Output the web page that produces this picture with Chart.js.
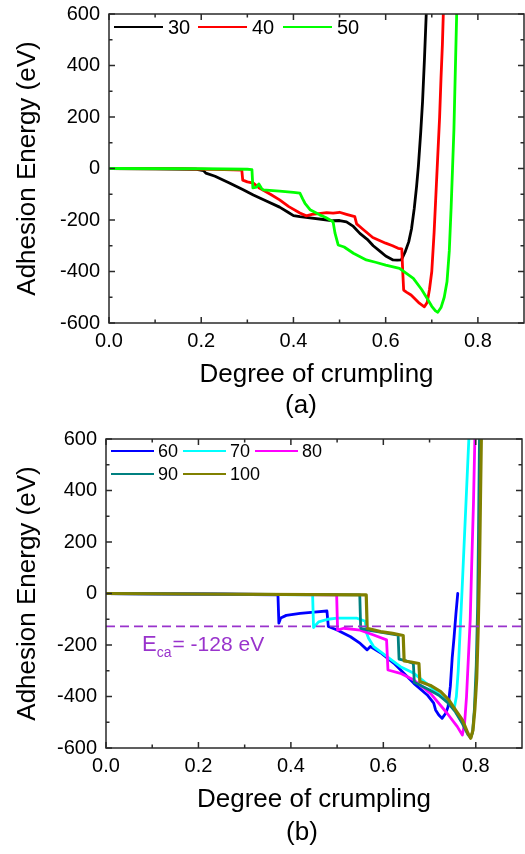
<!DOCTYPE html>
<html><head><meta charset="utf-8">
<script src="https://cdn.jsdelivr.net/npm/chart.js@4.4.1/dist/chart.umd.min.js"></script>
<style>
html,body{margin:0;padding:0;background:#fff;width:525px;height:854px;overflow:hidden;position:relative}
canvas{position:absolute;left:0}
</style></head><body>
<canvas id="c1" width="525" height="425" style="top:0px"></canvas>
<canvas id="c2" width="525" height="429" style="top:425px"></canvas>
<script>
// ---------- data ----------
const xTickValues = [0, 0.2, 0.4, 0.6, 0.8];
const xMinorValues = [0.1, 0.3, 0.5, 0.7];
const yTickValues = [-600, -400, -200, 0, 200, 400, 600];
const yMinorValues = [-500, -300, -100, 100, 300, 500];

// panel (a)
const labelsA = ['30', '40', '50'];
const x30 = [0,0.10,0.19,0.205,0.21,0.23,0.26,0.29,0.313,0.34,0.37,0.39,0.40,0.414,0.44,0.465,0.486,0.50,0.515,0.53,0.544,0.56,0.573,0.59,0.60,0.616,0.625,0.634,0.642,0.65,0.656,0.662,0.667,0.671,0.676,0.680,0.684,0.688];
const y30 = [0,-1,-3,-8,-18,-30,-55,-82,-103,-125,-150,-172,-183,-187,-193,-198,-203,-202,-207,-225,-252,-275,-300,-325,-340,-355,-356,-355,-325,-285,-235,-155,-70,10,140,260,420,600];
const x40 = [0,0.15,0.25,0.288,0.290,0.30,0.313,0.327,0.35,0.37,0.39,0.414,0.428,0.44,0.455,0.472,0.486,0.50,0.515,0.533,0.537,0.55,0.572,0.60,0.615,0.627,0.635,0.637,0.639,0.645,0.655,0.66,0.673,0.684,0.69,0.695,0.700,0.705,0.709,0.713,0.717,0.720,0.723,0.725];
const y40 = [0,-1,-4,-6,-45,-52,-57,-77,-100,-122,-148,-173,-184,-178,-175,-171,-173,-170,-178,-187,-215,-235,-268,-290,-300,-310,-312,-400,-472,-480,-491,-500,-523,-537,-520,-470,-400,-250,-100,50,200,350,480,600];
const x50 = [0,0.2,0.30,0.310,0.312,0.32,0.325,0.330,0.334,0.37,0.40,0.414,0.42,0.425,0.436,0.457,0.47,0.486,0.49,0.497,0.51,0.53,0.558,0.58,0.60,0.63,0.66,0.678,0.69,0.70,0.708,0.713,0.72,0.727,0.733,0.738,0.742,0.745,0.748,0.750,0.752,0.754];
const y50 = [0,-1,-3,-4,-75,-72,-60,-75,-83,-88,-93,-96,-118,-135,-160,-180,-190,-207,-250,-297,-305,-329,-355,-365,-375,-388,-427,-470,-505,-535,-553,-558,-540,-500,-440,-320,-150,0,150,300,450,600];

// panel (b)
const labelsB = ['60', '70', '80', '90', '100'];
const x60 = [0,0.2,0.372,0.374,0.378,0.39,0.42,0.45,0.478,0.481,0.50,0.529,0.55,0.565,0.572,0.594,0.623,0.652,0.666,0.695,0.709,0.713,0.72,0.727,0.735,0.740,0.745,0.749,0.753,0.757,0.761];
const y60 = [0,-2,-5,-115,-95,-85,-77,-72,-68,-128,-142,-168,-194,-219,-206,-230,-271,-323,-349,-394,-426,-452,-472,-485,-465,-440,-360,-250,-170,-80,0];
const x70 = [0,0.2,0.447,0.449,0.46,0.48,0.50,0.543,0.561,0.563,0.568,0.579,0.608,0.637,0.666,0.702,0.738,0.753,0.758,0.762,0.766,0.770,0.775,0.780,0.785];
const y70 = [0,-2,-5,-132,-110,-100,-96,-96,-108,-150,-174,-206,-245,-284,-310,-362,-420,-450,-400,-300,-150,0,200,400,600];
const x80 = [0,0.2,0.499,0.501,0.514,0.55,0.579,0.607,0.61,0.637,0.666,0.702,0.738,0.76,0.771,0.776,0.780,0.784,0.788,0.791,0.795,0.798];
const y80 = [0,-2,-5,-142,-135,-142,-161,-180,-297,-310,-336,-388,-465,-517,-550,-500,-400,-250,-100,100,350,600];
const x90 = [0,0.2,0.549,0.551,0.57,0.60,0.632,0.634,0.65,0.665,0.667,0.70,0.72,0.74,0.756,0.771,0.783,0.789,0.793,0.797,0.801,0.804,0.806,0.808];
const y90 = [0,-2,-5,-135,-143,-152,-162,-255,-262,-272,-345,-375,-395,-425,-460,-505,-548,-560,-540,-450,-280,-50,250,600];
const x100 = [0,0.2,0.563,0.565,0.594,0.62,0.643,0.645,0.66,0.677,0.679,0.702,0.724,0.742,0.756,0.771,0.783,0.789,0.794,0.798,0.802,0.805,0.808,0.810,0.812];
const y100 = [0,-2,-5,-135,-148,-155,-163,-262,-266,-272,-342,-357,-381,-414,-452,-491,-543,-562,-530,-450,-330,-150,100,350,600];

const EcaValue = -128;

// ---------- helpers ----------
const FONT = "Arial, 'Liberation Sans', sans-serif";
const pts = (xs, ys) => xs.map((x, i) => ({x: x, y: ys[i]}));

const framePlugin = {
  id: 'frameTicks',
  afterDatasetsDraw(chart) {
    const {ctx, chartArea: a, scales: {x, y}} = chart;
    ctx.save();
    ctx.strokeStyle = '#2a2a2a';
    ctx.lineWidth = 1.5;
    ctx.strokeRect(a.left, a.top, a.right - a.left, a.bottom - a.top);
    ctx.beginPath();
    const tx = (vals, len) => vals.forEach(v => {
      const p = x.getPixelForValue(v);
      ctx.moveTo(p, a.bottom); ctx.lineTo(p, a.bottom - len);
      ctx.moveTo(p, a.top); ctx.lineTo(p, a.top + len);
    });
    const ty = (vals, len) => vals.forEach(v => {
      const p = y.getPixelForValue(v);
      ctx.moveTo(a.left, p); ctx.lineTo(a.left + len, p);
      ctx.moveTo(a.right, p); ctx.lineTo(a.right - len, p);
    });
    tx(xTickValues, 6); tx(xMinorValues, 3.5);
    ty(yTickValues, 6); ty(yMinorValues, 3.5);
    ctx.stroke();
    ctx.restore();
  }
};

const legendPlugin = {
  id: 'sideLegend',
  afterDraw(chart, args, opts) {
    const {ctx, chartArea: a} = chart;
    ctx.save();
    ctx.font = opts.fontSize + 'px ' + FONT;
    ctx.textBaseline = 'middle';
    ctx.textAlign = 'left';
    opts.items.forEach(it => {
      const x0 = a.left + it.dx, yy = a.top + it.dy;
      ctx.strokeStyle = it.color;
      ctx.lineWidth = 2.2;
      ctx.beginPath(); ctx.moveTo(x0, yy); ctx.lineTo(x0 + opts.lineLen, yy); ctx.stroke();
      ctx.fillStyle = '#000';
      ctx.fillText(it.label, x0 + opts.lineLen + opts.gap, yy + 1);
    });
    ctx.restore();
  }
};

const panelLabelPlugin = {
  id: 'panelLabel',
  afterDraw(chart, args, opts) {
    const {ctx, chartArea: a} = chart;
    ctx.save();
    ctx.font = '26px ' + FONT;
    ctx.fillStyle = '#000';
    ctx.textAlign = 'center';
    ctx.textBaseline = 'middle';
    ctx.fillText(opts.text, opts.x, a.bottom + opts.dy);
    ctx.restore();
  }
};

const ecaPlugin = {
  id: 'ecaLabel',
  afterDraw(chart, args, opts) {
    if (!opts.show) return;
    const {ctx, scales: {x, y}} = chart;
    const bx = x.getPixelForValue(0.078);
    const by = y.getPixelForValue(EcaValue) + 25;
    ctx.save();
    ctx.fillStyle = '#9933cc';
    ctx.textBaseline = 'alphabetic';
    ctx.textAlign = 'left';
    ctx.font = '22px ' + FONT;
    ctx.fillText('E', bx, by);
    let w = ctx.measureText('E').width;
    ctx.font = '14px ' + FONT;
    ctx.fillText('ca', bx + w, by + 6);
    w += ctx.measureText('ca').width;
    ctx.font = '21px ' + FONT;
    ctx.fillText('= -128 eV', bx + w + 1, by);
    ctx.restore();
  }
};

function makeChart(id, H, leftW, rightX, datasets, legend, panel, showEca) {
  return new Chart(document.getElementById(id), {
    type: 'scatter',
    data: {datasets: datasets},
    plugins: [framePlugin, legendPlugin, panelLabelPlugin, ecaPlugin],
    options: {
      responsive: false,
      animation: false,
      devicePixelRatio: 1,
      layout: {padding: {left: 0, top: 14, right: 525 - rightX, bottom: H - 390}},
      elements: {point: {radius: 0}, line: {tension: 0, borderJoinStyle: 'round', borderCapStyle: 'round'}},
      plugins: {
        legend: {display: false},
        tooltip: {enabled: false},
        sideLegend: legend,
        panelLabel: panel,
        ecaLabel: {show: showEca}
      },
      scales: {
        x: {
          type: 'linear', min: 0, max: 0.9,
          grid: {display: false, drawTicks: false},
          border: {display: false},
          afterBuildTicks: s => { s.ticks = xTickValues.map(v => ({value: v})); },
          afterFit: s => { s.height = 67; s.paddingLeft = 0; s.paddingRight = 0; },
          ticks: {padding: 6, color: '#000', font: {family: FONT, size: 20}, callback: v => Number(v).toFixed(1), maxRotation: 0, autoSkip: false},
          title: {display: true, text: 'Degree of crumpling', color: '#000', font: {family: FONT, size: 26}, padding: {top: 0, bottom: 0}}
        },
        y: {
          type: 'linear', min: -600, max: 600,
          grid: {display: false, drawTicks: false},
          border: {display: false},
          afterBuildTicks: s => { s.ticks = yTickValues.map(v => ({value: v})); },
          afterFit: s => { s.width = leftW; s.paddingTop = 0; s.paddingBottom = 0; },
          ticks: {padding: 9, color: '#000', font: {family: FONT, size: 20}, callback: v => String(v), autoSkip: false},
          title: {display: true, text: 'Adhesion Energy (eV)', color: '#000', font: {family: FONT, size: 26}, padding: {top: 12, bottom: 0}}
        }
      }
    }
  });
}

const colorsA = ['#000000', '#ff0000', '#00ff00'];
const seriesA = [[x30, y30], [x40, y40], [x50, y50]];
const dsA = seriesA.map((s, i) => ({
  label: labelsA[i], data: pts(s[0], s[1]), showLine: true,
  borderColor: colorsA[i], backgroundColor: colorsA[i], borderWidth: 2.8, order: seriesA.length - i
}));
makeChart('c1', 425, 109, 524, dsA, {
  fontSize: 20, lineLen: 49, gap: 5,
  items: [0, 1, 2].map(i => ({label: labelsA[i], color: colorsA[i], dx: [5, 89, 174][i], dy: 13}))
}, {text: '(a)', x: 301, dy: 83}, false);

const colorsB = ['#0000ff', '#00ffff', '#ff00ff', '#008080', '#808000'];
const seriesB = [[x60, y60], [x70, y70], [x80, y80], [x90, y90], [x100, y100]];
const dsB = seriesB.map((s, i) => ({
  label: labelsB[i], data: pts(s[0], s[1]), showLine: true,
  borderColor: colorsB[i], backgroundColor: colorsB[i], borderWidth: i === 4 ? 3.2 : 2.8, order: seriesB.length - i
}));
dsB.push({
  label: 'Eca', data: pts([0, 0.9], [EcaValue, EcaValue]), showLine: true,
  borderColor: '#9933cc', borderWidth: 1.8, borderDash: [9, 5], borderCapStyle: 'butt', order: -1
});
makeChart('c2', 429, 106, 522, dsB, {
  fontSize: 18, lineLen: 43, gap: 4,
  items: [0, 1, 2, 3, 4].map(i => ({label: labelsB[i], color: colorsB[i], dx: [5, 77, 149][i % 3], dy: i < 3 ? 12 : 35}))
}, {text: '(b)', x: 302, dy: 85}, true);
</script>
</body></html>
